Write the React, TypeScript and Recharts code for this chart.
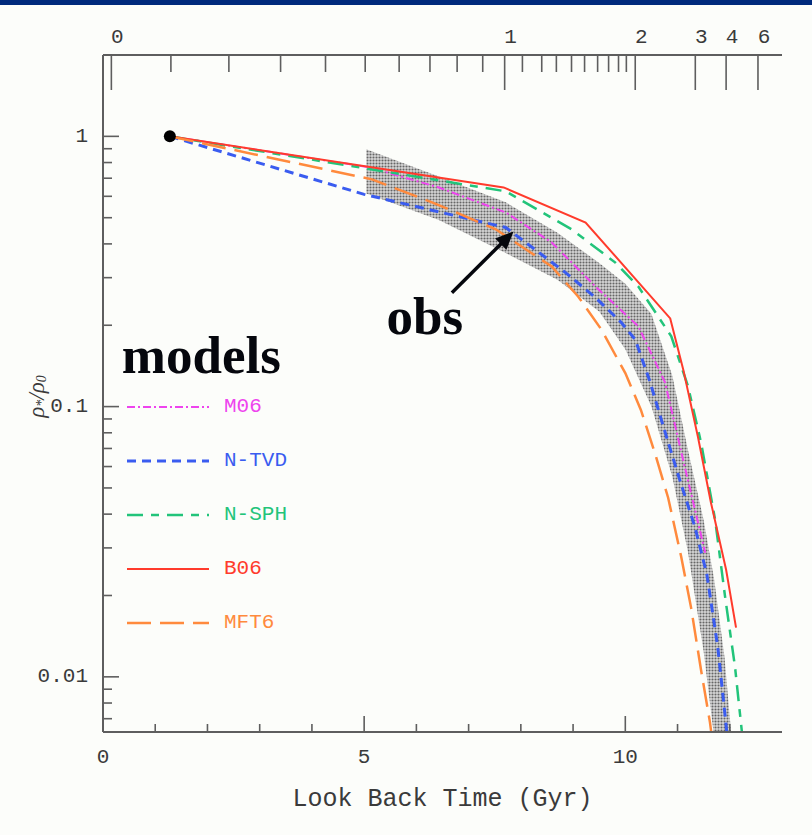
import React from 'react';
import { ComposedChart, Line, Area, XAxis, YAxis, ReferenceDot, ReferenceLine, Legend } from 'recharts';

// ---------- axis ticks ----------
const timeTicks = [0, 1, 2, 3, 4, 5, 6, 7, 8, 9, 10, 11, 12];
const timeLabelled = [0, 5, 10];
const rhoTicks = [
  0.007, 0.008, 0.009, 0.01, 0.02, 0.03, 0.04, 0.05, 0.06, 0.07, 0.08, 0.09,
  0.1, 0.2, 0.3, 0.4, 0.5, 0.6, 0.7, 0.8, 0.9, 1, 2,
];
const rhoLabelled = [0.01, 0.1, 1];
const rhoLabels = ['0.01', '0.1', '1'];
// redshift axis (top) expressed in look back time
const zMajorTimes = [0.16, 7.69, 10.19, 11.34, 11.93, 12.54];
const zMajorLabels = ['0', '1', '2', '3', '4', '6'];
const zMinorTimes = [1.3, 2.41, 3.4, 4.26, 5.02, 5.67, 6.26, 6.78, 7.27, 8.03, 8.4, 8.68, 8.97, 9.22, 9.47, 9.68, 9.87, 10.02];

// ---------- series ----------
const m06Time = [1.28, 5.1, 6.43, 7.71, 8.59, 9.43, 10.25, 10.76, 11.15, 11.53];
const m06Rho = [1, 0.768, 0.647, 0.523, 0.405, 0.278, 0.198, 0.123, 0.0585, 0.0288];

const ntvdTime = [1.28, 5.0, 7.71, 8.85, 9.43, 9.92, 10.19, 10.47, 10.8, 11.05, 11.33, 11.56, 11.77, 11.92, 11.97];
const ntvdRho = [1, 0.61, 0.46, 0.314, 0.253, 0.205, 0.177, 0.124, 0.076, 0.053, 0.036, 0.024, 0.0129, 0.0069, 0.0055];

const nsphTime = [1.28, 7.71, 8.97, 9.81, 10.25, 10.88, 11.2, 11.45, 11.72, 11.91, 12.1, 12.25];
const nsphRho = [1, 0.626, 0.453, 0.341, 0.278, 0.182, 0.119, 0.0736, 0.0381, 0.0198, 0.0109, 0.0058];

const b06Time = [1.28, 7.67, 9.24, 10.86, 11.11, 11.39, 11.64, 11.93, 12.12];
const b06Rho = [1, 0.647, 0.48, 0.212, 0.137, 0.0774, 0.0441, 0.0249, 0.0152];

const mft6Time = [1.28, 5.15, 6.3, 7.52, 8.59, 9.1, 9.54, 10.0, 10.3, 10.57, 10.82, 11.07, 11.26, 11.45, 11.62, 11.7];
const mft6Rho = [1, 0.693, 0.57, 0.453, 0.33, 0.255, 0.193, 0.133, 0.097, 0.067, 0.046, 0.0278, 0.018, 0.0106, 0.0068, 0.0052];

// observed band
const bandTime = [5.04, 6.43, 7.71, 8.7, 9.5, 10.0, 10.5, 10.9, 11.2, 11.5, 11.7, 11.9, 12.05];
const bandHigh = [0.895, 0.711, 0.57, 0.44, 0.34, 0.285, 0.22, 0.13, 0.069, 0.038, 0.023, 0.0118, 0.0055];
const bandLow = [0.615, 0.49, 0.37, 0.295, 0.225, 0.163, 0.1, 0.055, 0.029, 0.0124, 0.006, 0.0045, 0.0045];

// normalisation point
const startTime = 1.28;
const startRho = 1;

// annotation arrow (tail, tip)
const arrowTime = [6.68, 7.86];
const arrowRho = [0.264, 0.445];
const obsLabelAt = { t: 6.16, r: 0.185 };
const modelsLabelAt = { t: 0.36, r: 0.1336 };

const toPts = (ts: number[], rs: number[]) => ts.map((t, i) => ({ t, r: rs[i] }));
const bandData = bandTime.map((t, i) => ({ t, band: [bandLow[i], bandHigh[i]] }));

const seriesNames = ['M06', 'N-TVD', 'N-SPH', 'B06', 'MFT6'];
const seriesColors = ['#ee44ee', '#3a5cf0', '#22c47a', '#ff3b2c', '#ff8a3d'];
const seriesDash = ['8 3 2 3', '9 6', '16 8 8 8', '', '24 9'];
const seriesWidth = [2, 3, 2.5, 2, 2.5];
const seriesData = [
  toPts(m06Time, m06Rho),
  toPts(ntvdTime, ntvdRho),
  toPts(nsphTime, nsphRho),
  toPts(b06Time, b06Rho),
  toPts(mft6Time, mft6Rho),
];

const AXIS = '#5e5e5e';
const TXT = '#3a3a3a';
const MONO = '"Liberation Mono", "DejaVu Sans Mono", monospace';
const SERIF = '"Liberation Serif", "DejaVu Serif", serif';

const TopTick = (props: any) => {
  const { x, y, payload } = props;
  const idx = zMajorTimes.indexOf(payload.value);
  const major = idx >= 0;
  return (
    <g>
      <line x1={x} y1={y} x2={x} y2={y + (major ? 35 : 17)} stroke={AXIS} strokeWidth={1.6} />
      {major && (
        <text x={x + 6} y={y - 18} textAnchor="middle" dominantBaseline="central" fontFamily={MONO} fontSize={21} fill={TXT}>
          {zMajorLabels[idx]}
        </text>
      )}
    </g>
  );
};

const BottomTick = (props: any) => {
  const { x, y, payload } = props;
  const major = timeLabelled.indexOf(payload.value) >= 0;
  return (
    <g>
      <line x1={x} y1={y} x2={x} y2={y - (major ? 16 : 8)} stroke={AXIS} strokeWidth={1.6} />
      {major && (
        <text x={x} y={y + 25} textAnchor="middle" dominantBaseline="central" fontFamily={MONO} fontSize={21} fill={TXT}>
          {payload.value}
        </text>
      )}
    </g>
  );
};

const LeftTick = (props: any) => {
  const { x, y, payload } = props;
  const idx = rhoLabelled.indexOf(payload.value);
  const major = idx >= 0;
  return (
    <g>
      <line x1={x} y1={y} x2={x + (major ? 16 : 9)} y2={y} stroke={AXIS} strokeWidth={1.6} />
      {major && (
        <text x={x - 15} y={y} textAnchor="end" dominantBaseline="central" fontFamily={MONO} fontSize={21} fill={TXT}>
          {rhoLabels[idx]}
        </text>
      )}
    </g>
  );
};

const RightTick = (props: any) => {
  const { x, y, payload } = props;
  const major = rhoLabelled.indexOf(payload.value) >= 0;
  return <line x1={x} y1={y} x2={x - (major ? 14 : 8)} y2={y} stroke={AXIS} strokeWidth={1.6} />;
};

const YTitle = (props: any) => {
  const vb = props.viewBox;
  const cx = vb.x + 36;
  const cy = vb.y + vb.height / 2 + 3;
  return (
    <text x={cx} y={cy} transform={`rotate(-90, ${cx}, ${cy})`} textAnchor="middle" dominantBaseline="central" fontFamily={SERIF} fontStyle="italic" fontSize={23} fill={TXT}>
      ρ<tspan dy={5} fontSize={14}>*</tspan>
      <tspan dy={-5}>/ρ</tspan>
      <tspan dy={5} fontSize={14}>0</tspan>
    </text>
  );
};

const XTitle = (props: any) => {
  const vb = props.viewBox;
  return (
    <text x={vb.x + vb.width / 2} y={vb.y + 67} textAnchor="middle" dominantBaseline="central" fontFamily={MONO} fontSize={25} fill={TXT}>
      Look Back Time (Gyr)
    </text>
  );
};

const ArrowShape = (props: any) => {
  const { x1, y1, x2, y2 } = props;
  const dx = x2 - x1;
  const dy = y2 - y1;
  const len = Math.sqrt(dx * dx + dy * dy);
  const ux = dx / len;
  const uy = dy / len;
  const hl = 18;
  const hw = 8;
  const bx = x2 - ux * hl;
  const by = y2 - uy * hl;
  return (
    <g>
      <line x1={x1} y1={y1} x2={bx + ux * 2} y2={by + uy * 2} stroke="#05070d" strokeWidth={3.5} />
      <polygon points={`${x2},${y2} ${bx - uy * hw},${by + ux * hw} ${bx + uy * hw},${by - ux * hw}`} fill="#05070d" />
    </g>
  );
};

const TextShape = (label: string, anchor: string) => (props: any) => (
  <text x={props.cx} y={props.cy} textAnchor={anchor} fontFamily={SERIF} fontWeight="bold" fontSize={53} fill="#05070d">
    {label}
  </text>
);

const LegendBox = () => (
  <div style={{ fontFamily: MONO, fontSize: 21 }}>
    {seriesNames.map((n, i) => (
      <div key={n} style={{ height: 54, display: 'flex', alignItems: 'center' }}>
        <svg width={82} height={10} style={{ display: 'block' }}>
          <line x1={0} y1={5} x2={82} y2={5} stroke={seriesColors[i]} strokeWidth={seriesWidth[i]} strokeDasharray={seriesDash[i] || undefined} />
        </svg>
        <span style={{ marginLeft: 15, color: seriesColors[i], lineHeight: '20px' }}>{n}</span>
      </div>
    ))}
  </div>
);

export default function App() {
  return (
    <div style={{ position: 'absolute', left: 0, top: 0, width: 812, height: 835, background: '#fcfdfa', overflow: 'hidden' }}>
      <div style={{ position: 'absolute', left: 0, top: 0, width: 812, height: 5, background: '#002a7c', zIndex: 2 }} />
      <ComposedChart width={812} height={835} margin={{ top: 0, right: 30, bottom: 0, left: 0 }}>
        <defs>
          <pattern id="obsPat" width="3" height="3" patternUnits="userSpaceOnUse">
            <rect width="3" height="3" fill="#d6d6d6" />
            <circle cx="1.5" cy="1.5" r="1.05" fill="#666" />
          </pattern>
        </defs>
        <XAxis
          xAxisId="b"
          type="number"
          dataKey="t"
          domain={[0, 13]}
          allowDataOverflow
          ticks={timeTicks}
          interval={0}
          tickSize={0}
          tickMargin={0}
          tick={BottomTick}
          height={103}
          axisLine={{ stroke: AXIS, strokeWidth: 2 }}
          label={{ content: XTitle }}
        />
        <XAxis
          xAxisId="top"
          orientation="top"
          type="number"
          dataKey="t"
          domain={[0, 13]}
          allowDataOverflow
          ticks={[...zMajorTimes, ...zMinorTimes]}
          interval={0}
          tickSize={0}
          tickMargin={0}
          tick={TopTick}
          height={55}
          axisLine={{ stroke: AXIS, strokeWidth: 2 }}
        />
        <YAxis
          yAxisId="left"
          type="number"
          scale="log"
          domain={[0.00625, 2]}
          allowDataOverflow
          ticks={rhoTicks}
          interval={0}
          tickSize={0}
          tickMargin={0}
          tick={LeftTick}
          width={103}
          axisLine={{ stroke: AXIS, strokeWidth: 2 }}
          label={{ content: YTitle }}
        />
        <YAxis
          yAxisId="right"
          orientation="right"
          type="number"
          scale="log"
          domain={[0.00625, 2]}
          allowDataOverflow
          ticks={rhoTicks}
          interval={0}
          tickSize={0}
          tickMargin={0}
          tick={RightTick}
          width={0}
          axisLine={{ stroke: AXIS, strokeWidth: 2 }}
        />
        <Area
          xAxisId="b"
          yAxisId="left"
          data={bandData}
          dataKey="band"
          type="linear"
          stroke="none"
          fill="url(#obsPat)"
          fillOpacity={1}
          isAnimationActive={false}
          legendType="none"
          dot={false}
          activeDot={false}
        />
        {seriesNames.map((n, i) => (
          <Line
            key={n}
            xAxisId="b"
            yAxisId="left"
            name={n}
            data={seriesData[i]}
            dataKey="r"
            type="linear"
            stroke={seriesColors[i]}
            strokeWidth={seriesWidth[i]}
            strokeDasharray={seriesDash[i] || undefined}
            dot={false}
            activeDot={false}
            isAnimationActive={false}
          />
        ))}
        <ReferenceDot xAxisId="b" yAxisId="left" x={startTime} y={startRho} r={6} fill="#000" stroke="none" />
        <ReferenceLine
          xAxisId="b"
          yAxisId="left"
          segment={[
            { x: arrowTime[0], y: arrowRho[0] },
            { x: arrowTime[1], y: arrowRho[1] },
          ]}
          shape={ArrowShape}
        />
        <ReferenceDot xAxisId="b" yAxisId="left" x={obsLabelAt.t} y={obsLabelAt.r} shape={TextShape('obs', 'middle')} />
        <ReferenceDot xAxisId="b" yAxisId="left" x={modelsLabelAt.t} y={modelsLabelAt.r} shape={TextShape('models', 'start')} />
        <Legend
          layout="horizontal"
          verticalAlign="middle"
          align="center"
          content={LegendBox}
          wrapperStyle={{ left: 127, top: 380, width: 220, height: 270 }}
        />
      </ComposedChart>
    </div>
  );
}
